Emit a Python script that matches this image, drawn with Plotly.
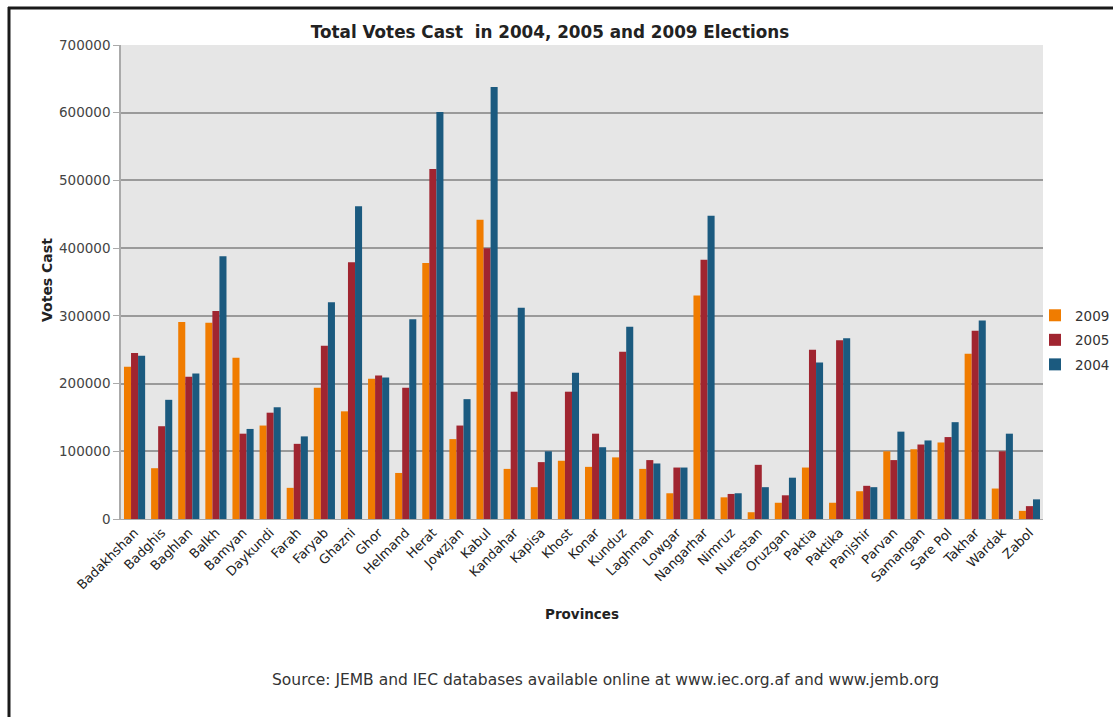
import plotly.graph_objects as go

provinces = ["Badakhshan", "Badghis", "Baghlan", "Balkh", "Bamyan", "Daykundi", "Farah", "Faryab",
             "Ghazni", "Ghor", "Helmand", "Herat", "Jowzjan", "Kabul", "Kandahar", "Kapisa", "Khost",
             "Konar", "Kunduz", "Laghman", "Lowgar", "Nangarhar", "Nimruz", "Nurestan", "Oruzgan",
             "Paktia", "Paktika", "Panjshir", "Parvan", "Samangan", "Sare Pol", "Takhar", "Wardak", "Zabol"]

votes_2009 = [225000, 75000, 291000, 290000, 238000, 138000, 46000, 194000,
              159000, 207000, 68000, 378000, 118000, 442000, 74000, 47000, 86000,
              77000, 91000, 74000, 38000, 330000, 32000, 10000, 24000,
              76000, 24000, 41000, 100000, 103000, 113000, 244000, 45000, 12000]

votes_2005 = [245000, 137000, 210000, 307000, 126000, 157000, 111000, 256000,
              379000, 212000, 194000, 517000, 138000, 400000, 188000, 84000, 188000,
              126000, 247000, 87000, 76000, 383000, 37000, 80000, 35000,
              250000, 264000, 49000, 87000, 110000, 121000, 278000, 100000, 19000]

votes_2004 = [241000, 176000, 215000, 388000, 133000, 165000, 122000, 320000,
              462000, 209000, 295000, 601000, 177000, 638000, 312000, 100000, 216000,
              106000, 284000, 82000, 76000, 448000, 38000, 47000, 61000,
              231000, 267000, 47000, 129000, 116000, 143000, 293000, 126000, 29000]

y_ticks = [0, 100000, 200000, 300000, 400000, 500000, 600000, 700000]

FONT = "DejaVu Sans"

fig = go.Figure()
fig.add_trace(go.Bar(name="2009", x=provinces, y=votes_2009, marker_color="#f07c00",
                     marker_line_width=0, legendgroup="a"))
fig.add_trace(go.Bar(name="2005", x=provinces, y=votes_2005, marker_color="#a02530",
                     marker_line_width=0, legendgroup="b"))
fig.add_trace(go.Bar(name="2004", x=provinces, y=votes_2004, marker_color="#1b5a7f",
                     marker_line_width=0, legendgroup="c"))

W, H = 1113, 717
L, R, T, B = 121, 1043, 45, 519

def px(xp):
    return (xp - L) / (R - L)

def py(yp):
    return (B - yp) / (B - T)

fig.update_layout(
    width=W, height=H,
    margin=dict(l=L, r=W - R, t=T, b=H - B, autoexpand=False),
    paper_bgcolor="white",
    plot_bgcolor="#e6e6e6",
    barmode="group",
    bargap=0.22,
    bargroupgap=0,
    font=dict(family=FONT, color="#333333", size=12),
    title=dict(text="<b>Total Votes Cast  in 2004, 2005 and 2009 Elections</b>",
               x=px(550), xref="paper", xanchor="center",
               y=1 - 32 / H, yref="container", yanchor="middle",
               font=dict(family=FONT, size=16.8, color="#222222")),
    legend=dict(x=px(1035), y=py(340), xanchor="left", yanchor="middle",
                bgcolor="rgba(0,0,0,0)", font=dict(family=FONT, size=13.5, color="#333333"),
                itemwidth=30, traceorder="grouped", tracegroupgap=4),
    xaxis=dict(tickangle=-45, showgrid=False, showline=True, linecolor="#aaaaaa", linewidth=1,
               ticks="", tickfont=dict(family=FONT, size=13, color="#222222")),
    yaxis=dict(range=[0, 700000], tickvals=y_ticks, ticktext=[str(v) for v in y_ticks],
               showgrid=True, gridcolor="#9a9a9a", gridwidth=1.5,
               showline=True, linecolor="#aaaaaa", linewidth=1.5,
               ticks="outside", ticklen=6, tickcolor="#aaaaaa",
               zeroline=False, tickfont=dict(family=FONT, size=13.5, color="#444444")),
    annotations=[
        dict(text="<b>Votes Cast</b>", x=px(37), y=py(280), xref="paper", yref="paper",
             textangle=-90, showarrow=False, font=dict(family=FONT, size=14, color="#222222")),
        dict(text="<b>Provinces</b>", x=px(582), y=py(624), xref="paper", yref="paper",
             showarrow=False, font=dict(family=FONT, size=13.5, color="#222222")),
        dict(text="Source: JEMB and IEC databases available online at www.iec.org.af and www.jemb.org",
             x=px(605), y=py(691), xref="paper", yref="paper",
             showarrow=False, font=dict(family=FONT, size=15.5, color="#333333")),
    ],
    shapes=[
        dict(type="line", xref="paper", yref="paper", x0=px(9), x1=px(9), y0=py(7), y1=py(717),
             line=dict(color="#1a1a1a", width=3)),
        dict(type="line", xref="paper", yref="paper", x0=px(8), x1=px(1113), y0=py(8), y1=py(8),
             line=dict(color="#1a1a1a", width=3)),
    ],
)

fig.write_html("out.html")
